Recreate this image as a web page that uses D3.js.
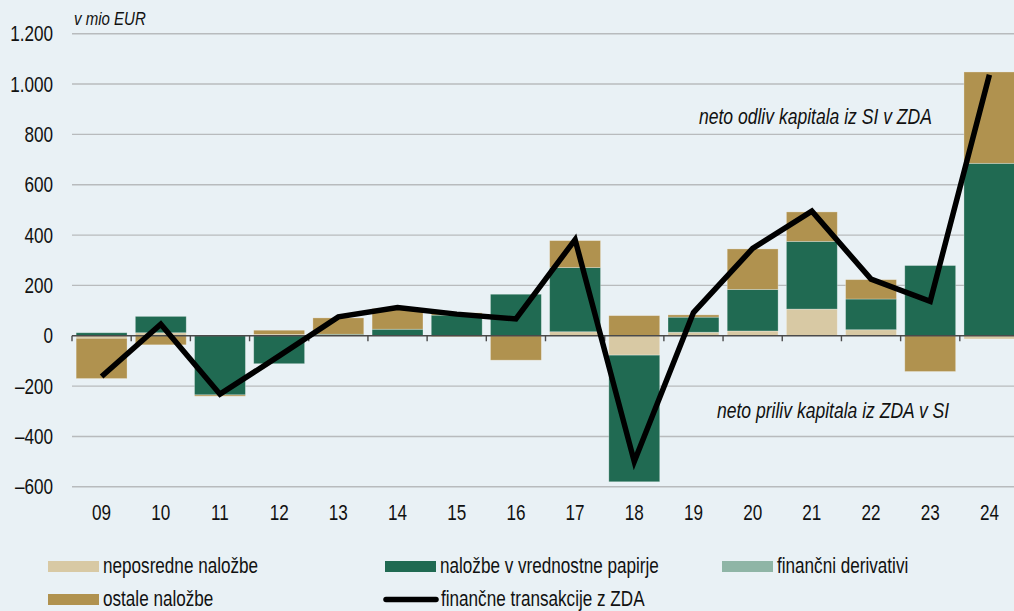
<!DOCTYPE html>
<html>
<head>
<meta charset="utf-8">
<script src="https://cdn.jsdelivr.net/npm/d3@7"></script>
<style>
  html, body { margin: 0; padding: 0; background: #e9f1f5; }
  svg { display: block; }
  text { font-family: "Liberation Sans", Arial, sans-serif; fill: #111; }
</style>
</head>
<body>
<svg id="chart" width="1014" height="611"></svg>
<script>
const categories = ["09","10","11","12","13","14","15","16","17","18","19","20","21","22","23","24"];
const neposredne = [-10, 12, 3, 5, 2, 0, -5, 0, 16, -77, 14, 19, 106, 24, 0, -13];
const vrednostne = [12, 65, -235, -111, 4, 26, 82, 165, 255, -503, 60, 165, 269, 122, 279, 685];
const derivativi = [0, 0, 0, 0, 0, 0, 0, 0, 0, 0, 0, 0, 0, 0, 0, 0];
const ostale = [-160, -36, -5, 17, 65, 82, 9, -97, 107, 80, 9, 161, 117, 77, -142, 363];
const transakcije = [-162, 46, -232, -80, 75, 112, 86, 67, 382, -500, 92, 347, 495, 225, 137, 1037];
const yTicks = [-600, -400, -200, 0, 200, 400, 600, 800, 1000, 1200];

const seriesKeys = ["neposredne", "vrednostne", "derivativi", "ostale"];
const seriesNames = {
  neposredne: "neposredne naložbe",
  vrednostne: "naložbe v vrednostne papirje",
  derivativi: "finančni derivativi",
  ostale: "ostale naložbe"
};
const colors = {
  neposredne: "#d8c9a4",
  vrednostne: "#206a52",
  derivativi: "#8fb5a6",
  ostale: "#b0924f"
};

const table = categories.map((c, i) => ({
  cat: c,
  neposredne: neposredne[i],
  vrednostne: vrednostne[i],
  derivativi: derivativi[i],
  ostale: ostale[i]
}));

const svg = d3.select("#chart");
const x0 = 72, x1 = 1019;
const x = d3.scaleBand().domain(categories).range([x0, x1]).paddingInner(0.14).paddingOuter(0.07);
const y = d3.scaleLinear().domain([-600, 1200]).range([486.8, 33.7]);
const SX = 0.835, SY = 1.04; // condensed text look

function addText(parent, tx, ty, str, size, opts = {}) {
  return parent.append("text")
    .attr("transform", `translate(${tx},${ty}) scale(${SX},${SY})`)
    .attr("font-size", size)
    .attr("text-anchor", opts.anchor || "start")
    .attr("font-style", opts.italic ? "italic" : "normal")
    .text(str);
}

// gridlines
svg.append("g").selectAll("line").data(yTicks.filter(t => t !== 0)).join("line")
  .attr("x1", x0).attr("x2", 1014)
  .attr("y1", d => y(d)).attr("y2", d => y(d))
  .attr("stroke", "#b8bbbd").attr("stroke-width", 1.4);

// y tick labels
const fmt = v => (v < 0 ? "\u2013" : "") + d3.format(",")(Math.abs(v)).replace(/,/g, ".");
const gy = svg.append("g");
yTicks.forEach(t => addText(gy, 53, y(t) + 7.5, fmt(t), 20.5, { anchor: "end" }));

// unit label
addText(svg, 74, 25, "v mio EUR", 18, { italic: true });

// stacked bars
const stack = d3.stack().keys(seriesKeys).offset(d3.stackOffsetDiverging);
const stacked = stack(table);
svg.append("g").selectAll("g").data(stacked).join("g")
  .attr("fill", d => colors[d.key])
  .selectAll("rect").data(d => d).join("rect")
  .attr("x", d => x(d.data.cat))
  .attr("width", x.bandwidth())
  .attr("y", d => y(Math.max(d[0], d[1])))
  .attr("height", d => Math.abs(y(d[0]) - y(d[1])))
  .attr("stroke", "rgba(255,255,255,0.35)").attr("stroke-width", 0.8);

// zero axis
const step = x.step();
svg.append("line").attr("x1", x0).attr("x2", 1014).attr("y1", y(0)).attr("y2", y(0))
  .attr("stroke", "#4a4a4a").attr("stroke-width", 1.4);
svg.append("g").selectAll("line").data(d3.range(categories.length)).join("line")
  .attr("x1", i => x0 + i * step).attr("x2", i => x0 + i * step)
  .attr("y1", y(0)).attr("y2", y(0) + 5.5)
  .attr("stroke", "#4a4a4a").attr("stroke-width", 1.4);

// x labels
const gx = svg.append("g");
categories.forEach(c => addText(gx, x(c) + x.bandwidth() / 2, 520, c, 20.5, { anchor: "middle" }));

// line
const line = d3.line().x((d, i) => x(categories[i]) + x.bandwidth() / 2).y(d => y(d));
svg.append("path").datum(transakcije).attr("d", line)
  .attr("fill", "none").attr("stroke", "#000").attr("stroke-width", 5.5)
  .attr("stroke-linejoin", "miter").attr("stroke-miterlimit", 4);

// annotations
addText(svg, 699, 124, "neto odliv kapitala iz SI v ZDA", 21, { italic: true });
addText(svg, 717, 418, "neto priliv kapitala iz ZDA v SI", 21, { italic: true });

// legend
const legendItems = [
  { key: "neposredne", col: 0, row: 0 },
  { key: "vrednostne", col: 1, row: 0 },
  { key: "derivativi", col: 2, row: 0 },
  { key: "ostale", col: 0, row: 1 },
  { key: "line", col: 1, row: 1 }
];
const colX = [48, 385, 722];
const rowY = [566.5, 599.5];
const lg = svg.append("g");
legendItems.forEach(it => {
  const lx = colX[it.col], ly = rowY[it.row];
  if (it.key === "line") {
    lg.append("line").attr("x1", lx + 1).attr("x2", lx + 51).attr("y1", ly).attr("y2", ly)
      .attr("stroke", "#000").attr("stroke-width", 5.5).attr("stroke-linecap", "round");
    addText(lg, lx + 56, ly + 6.5, "finančne transakcije z ZDA", 20.5);
  } else {
    lg.append("rect").attr("x", lx).attr("y", ly - 5.5).attr("width", 51).attr("height", 11)
      .attr("fill", colors[it.key]);
    addText(lg, lx + 55, ly + 6.5, seriesNames[it.key], 20.5);
  }
});
</script>
</body>
</html>
